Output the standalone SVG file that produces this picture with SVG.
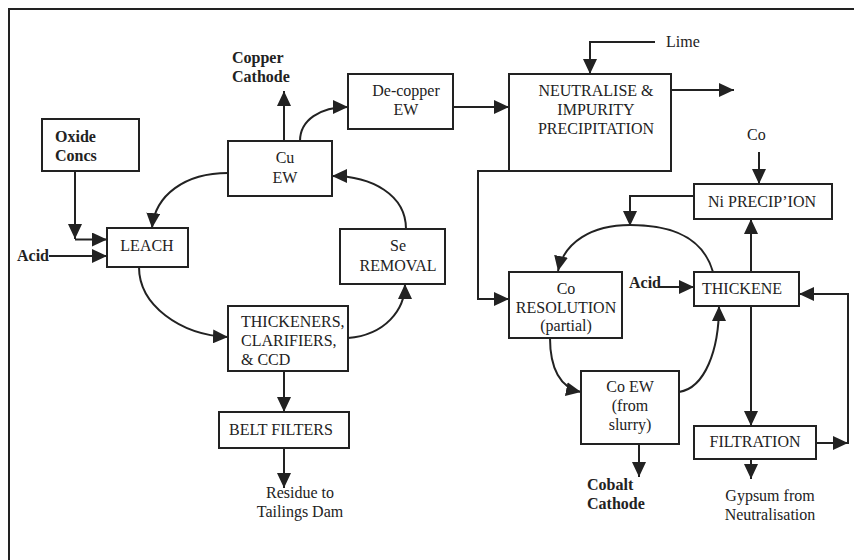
<svg xmlns="http://www.w3.org/2000/svg" width="854" height="560" viewBox="0 0 854 560">
<style>
.box{fill:#fff;stroke:#222;stroke-width:2}
.ln{fill:none;stroke:#222;stroke-width:2;marker-end:url(#ah)}
text{font-size:16px;fill:#222}
.c{text-anchor:middle}
.b{font-weight:bold}
</style>
<defs>
<marker id="ah" markerUnits="userSpaceOnUse" markerWidth="15" markerHeight="14" viewBox="0 0 15 14" refX="15" refY="7" orient="auto">
<path d="M0,0 L15,7 L0,14 z" fill="#222"/>
</marker>
</defs>
<rect x="9" y="9" width="880" height="590" fill="none" stroke="#222" stroke-width="2"/>

<g id="connectors">
<path class="ln" d="M655,42 H590 V74"/>
<path class="ln" d="M671,90 H734"/>
<path class="ln" d="M445,107 H509"/>
<path class="ln" d="M590,156 V171"/>
<path class="ln" d="M509,171 H478 V299 H509"/>
<path class="ln" d="M759,152 V184"/>
<path class="ln" d="M694,196 H630 V226"/>
<path class="ln" d="M751,272 V219"/>
<path class="ln" d="M659,287 H694"/>
<path class="ln" d="M751,306 V426"/>
<path class="ln" d="M751,459 V479"/>
<path class="ln" d="M816,443 H848"/>
<path class="ln" d="M848,444 V294 H799"/>
<path class="ln" d="M713,272 C703,237 672,225 630,225 C592,225 564,242 558,271"/>
<path class="ln" d="M550,338 C550,368 560,388 581,392"/>
<path class="ln" d="M679,392 C705,388 719,350 719,306"/>
<path class="ln" d="M639,444 V477"/>
<path class="ln" d="M284,141 V91"/>
<path class="ln" d="M300,141 C300,120 320,107 348,107"/>
<path class="ln" d="M228,173 C185,173 155,195 152,228"/>
<path class="ln" d="M139,267 C139,305 180,335 228,337"/>
<path class="ln" d="M348,338 C385,335 405,310 405,284"/>
<path class="ln" d="M406,229 C406,195 372,176 332,176"/>
<path class="ln" d="M284,371 V412"/>
<path class="ln" d="M284,448 V488"/>
<path class="ln" d="M49,256 H107"/>
<path class="ln" d="M75,171 V239"/>
<path class="ln" d="M75,239.5 H107"/>
</g>

<g font-family="'Liberation Serif', 'Times New Roman', 'DejaVu Serif', 'Noto Serif', serif">
<g id="oxide">
<rect class="box" x="42" y="119" width="97" height="52"/>
<text class="b" x="55" y="142">Oxide</text>
<text class="b" x="55" y="161">Concs</text>
</g>
<g id="copper-cathode">
<text class="b" x="232" y="63">Copper</text>
<text class="b" x="232" y="82">Cathode</text>
</g>
<g id="cu-ew">
<rect class="box" x="228" y="141" width="104" height="55"/>
<text class="c" x="285" y="163">Cu</text>
<text class="c" x="285" y="183">EW</text>
</g>
<g id="decopper">
<rect class="box" x="348" y="74" width="105" height="55"/>
<text class="c" x="406" y="96">De-copper</text>
<text class="c" x="406" y="115">EW</text>
</g>
<g id="neutralise">
<rect class="box" x="509" y="74" width="162" height="97"/>
<text class="c" x="596" y="96">NEUTRALISE &amp;</text>
<text class="c" x="596" y="115">IMPURITY</text>
<text class="c" x="596" y="134">PRECIPITATION</text>
</g>
<g id="lime"><text x="666" y="47">Lime</text></g>
<g id="co-in"><text x="747" y="140">Co</text></g>
<g id="ni-precip">
<rect class="box" x="694" y="184" width="138" height="35"/>
<text class="c" x="762" y="207">Ni PRECIP’ION</text>
</g>
<g id="leach">
<rect class="box" x="107" y="228" width="81" height="39"/>
<text class="c" x="147" y="251">LEACH</text>
</g>
<g id="acid-left"><text class="b" x="17" y="261">Acid</text></g>
<g id="se-removal">
<rect class="box" x="340" y="229" width="105" height="55"/>
<text class="c" x="398" y="251">Se</text>
<text class="c" x="398" y="271">REMOVAL</text>
</g>
<g id="thickeners">
<rect class="box" x="228" y="306" width="120" height="65"/>
<text x="241" y="327">THICKENERS,</text>
<text x="241" y="346">CLARIFIERS,</text>
<text x="241" y="365">&amp; CCD</text>
</g>
<g id="belt-filters">
<rect class="box" x="219" y="412" width="130" height="36"/>
<text class="c" x="281" y="435">BELT FILTERS</text>
</g>
<g id="residue">
<text class="c" x="300" y="498">Residue to</text>
<text class="c" x="300" y="517">Tailings Dam</text>
</g>
<g id="co-resolution">
<rect class="box" x="509" y="272" width="113" height="66"/>
<text class="c" x="566" y="294">Co</text>
<text class="c" x="566" y="313">RESOLUTION</text>
<text class="c" x="566" y="331">(partial)</text>
</g>
<g id="acid-right"><text class="b" x="629" y="288">Acid</text></g>
<g id="thickene">
<rect class="box" x="694" y="272" width="105" height="34"/>
<text x="702" y="294">THICKENE</text>
</g>
<g id="co-ew">
<rect class="box" x="581" y="371" width="98" height="73"/>
<text class="c" x="630" y="392">Co EW</text>
<text class="c" x="630" y="411">(from</text>
<text class="c" x="630" y="430">slurry)</text>
</g>
<g id="cobalt-cathode">
<text class="b" x="587" y="490">Cobalt</text>
<text class="b" x="587" y="509">Cathode</text>
</g>
<g id="filtration">
<rect class="box" x="694" y="426" width="122" height="33"/>
<text class="c" x="755" y="447">FILTRATION</text>
</g>
<g id="gypsum">
<text class="c" x="770" y="501">Gypsum from</text>
<text class="c" x="770" y="520">Neutralisation</text>
</g>
</g>
</svg>
